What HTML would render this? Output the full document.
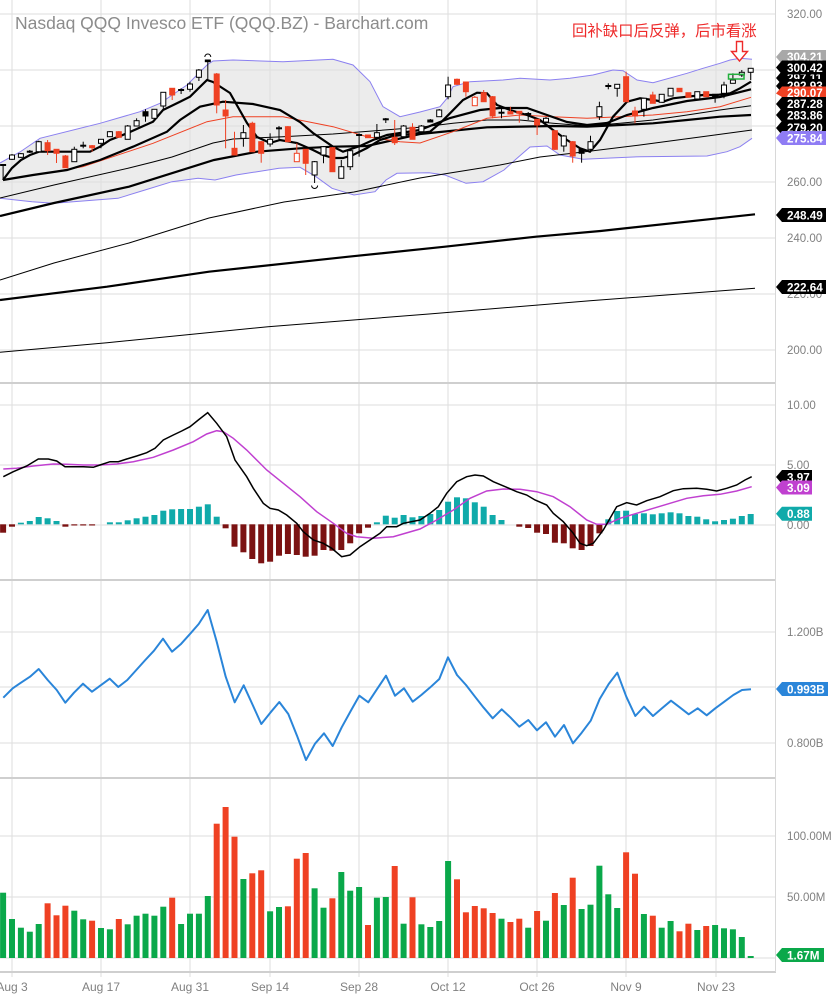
<!DOCTYPE html>
<html><head><meta charset="utf-8">
<style>
html,body{margin:0;padding:0;background:#fff;}
svg{display:block;}
.g{stroke:#dedede;stroke-width:1;fill:none;}
.sep{stroke:#cfcfcf;stroke-width:2;}
.ax{font-family:"Liberation Sans",sans-serif;font-size:11.5px;fill:#808080;}
.bt{font-family:"Liberation Sans",sans-serif;font-size:11.7px;font-weight:bold;fill:#fff;}
.w{stroke:#000;stroke-width:1;}
.wr{stroke:#ef4123;stroke-width:1;}
.u{fill:#fff;stroke:#000;stroke-width:1;}
.r{fill:#ef4123;stroke:#ef4123;stroke-width:1;}
.hr{fill:#fff;stroke:#ef4123;stroke-width:1;}
.b{fill:#000;stroke:#000;stroke-width:1;}
.vg{fill:#0aa84a;}
.vr{fill:#ef4123;}
.ht{fill:#10aaaa;}
.hd{fill:#7b1212;}
</style></head><body>
<svg width="837" height="1000" viewBox="0 0 837 1000" xmlns="http://www.w3.org/2000/svg">
<rect x="0" y="0" width="837" height="1000" fill="#fff"/>

<!-- Bollinger fill -->
<polygon fill="#ececec" points="0,163 20,152 40,138.3 100,123.3 140,111.7 160,103.3 187,85 207,65 213,61 233,60 283,61.7 333,59.3 353,65 370,81.7 383,106.7 400,116.7 420,112 440,106.7 447,98.3 453,86.7 470,81.7 503,80 520,78.3 550,80 570,78.3 593,75 613,70 623,70.7 637,80 653,82.7 687,73.3 703,68.3 720,63.3 730,60 740,58.3 752,59.3 752,138.3 740,146.7 727,151.7 707,156 640,156.7 583,159.3 560,155 547,146 530,147 515,160 504,170 483,181.7 466,183.3 445,175 429,172.7 397,173.3 386,180 375,191.7 354,195 332,188.3 316,176.7 300,167.3 279,168.3 236,175 215,180 198,178.3 172,181.7 145,190 118,198.3 54,203.3 32,201.7 0,198.3"/>

<!-- grid: horizontal -->
<g class="g">
<line x1="0" y1="14" x2="776" y2="14"/><line x1="0" y1="70" x2="776" y2="70"/><line x1="0" y1="126" x2="776" y2="126"/><line x1="0" y1="182" x2="776" y2="182"/><line x1="0" y1="238" x2="776" y2="238"/><line x1="0" y1="294" x2="776" y2="294"/><line x1="0" y1="350" x2="776" y2="350"/>
<line x1="0" y1="405" x2="776" y2="405"/><line x1="0" y1="465" x2="776" y2="465"/><line x1="0" y1="525" x2="776" y2="525"/>
<line x1="0" y1="632" x2="776" y2="632"/><line x1="0" y1="687" x2="776" y2="687"/><line x1="0" y1="743" x2="776" y2="743"/>
<line x1="0" y1="836" x2="776" y2="836"/><line x1="0" y1="897" x2="776" y2="897"/><line x1="0" y1="958" x2="776" y2="958"/>
</g>
<!-- grid: vertical -->
<g class="g">
<line x1="12" y1="0" x2="12" y2="977"/><line x1="101" y1="0" x2="101" y2="977"/><line x1="190" y1="0" x2="190" y2="977"/><line x1="270" y1="0" x2="270" y2="977"/><line x1="359" y1="0" x2="359" y2="977"/><line x1="448" y1="0" x2="448" y2="977"/><line x1="537" y1="0" x2="537" y2="977"/><line x1="626" y1="0" x2="626" y2="977"/><line x1="716" y1="0" x2="716" y2="977"/>
</g>
<!-- panel separators -->
<line class="sep" x1="0" y1="383" x2="776" y2="383"/>
<line class="sep" x1="0" y1="580" x2="776" y2="580"/>
<line class="sep" x1="0" y1="778" x2="776" y2="778"/>
<line class="sep" x1="0" y1="972" x2="776" y2="972"/>
<line x1="775.5" y1="0" x2="775.5" y2="972" stroke="#d8d8d8" stroke-width="1"/>

<!-- Bollinger lines -->
<polyline fill="none" stroke="#8b80f0" stroke-width="1" points="0,163 20,152 40,138.3 100,123.3 140,111.7 160,103.3 187,85 207,65 213,61 233,60 283,61.7 333,59.3 353,65 370,81.7 383,106.7 400,116.7 420,112 440,106.7 447,98.3 453,86.7 470,81.7 503,80 520,78.3 550,80 570,78.3 593,75 613,70 623,70.7 637,80 653,82.7 687,73.3 703,68.3 720,63.3 730,60 740,58.3 752,59.3"/>
<polyline fill="none" stroke="#8b80f0" stroke-width="1" points="0,198.3 32,201.7 54,203.3 118,198.3 145,190 172,181.7 198,178.3 215,180 236,175 279,168.3 300,167.3 316,176.7 332,188.3 354,195 375,191.7 386,180 397,173.3 429,172.7 445,175 466,183.3 483,181.7 504,170 515,160 530,147 547,146 560,155 583,159.3 640,156.7 707,156 727,151.7 740,146.7 752,138.3"/>

<!-- long MAs -->
<polyline fill="none" stroke="#000" stroke-width="1" points="0,280 54,263 129,243 209,218 284,202 354,192 420,178 450,173 500,165 540,157 583,152 640,145 700,137 752,130"/>
<polyline fill="none" stroke="#000" stroke-width="2.2" points="0,300 107,286.7 209,271.7 348.5,256.7 445,246.7 536,236.7 600.5,231 755,214.3"/>
<polyline fill="none" stroke="#000" stroke-width="1" points="0,352.3 107,342.7 268,326.7 429,314 590,300.7 755,288.3"/>

<!-- short MAs -->
<polyline fill="none" stroke="#000" stroke-width="2.2" points="0,216 54,203 129,186.7 214,160 257,151.7 300,148.3 333,146.7 367,146 420,134 487,127.3 553,126 587,126.7 620,125 653,123.3 687,120 720,116.7 751,115"/>
<polyline fill="none" stroke="#000" stroke-width="1" points="0,198 54,185 129,168 153,162 172,157 213,143 233,139 283,136.7 333,134 420,127.3 453,123.3 487,120 520,120 553,123.3 587,126 620,123.3 653,120 687,115 720,110 751,105.7"/>
<polyline fill="none" stroke="#ef4123" stroke-width="1" points="3,180 83,166.7 153,143.3 207,121.7 233,116.7 283,116.7 333,126.7 367,136.7 400,141.7 420,143 453,131.7 487,118.3 520,115 553,116.7 587,118.3 620,116.7 653,115 687,111.7 720,106.7 751,97.3"/>
<polyline fill="none" stroke="#000" stroke-width="2.2" points="3,180 33,175 67,170 100,160 133,146.7 167,131.7 180,120 200,106.7 223,101.7 253,104 280,110 300,122 313,133 333,146.7 343,151.7 360,146 373,140 387,135 420,130 450,118 480,110 500,108 527,108 547,115 567,122 587,125 607,123 627,115 653,108 687,101 720,97 751,89.3"/>
<polyline fill="none" stroke="#000" stroke-width="2.2" points="3,180 12,168 21,160 30,155 39,151.7 67,151.7 90,151.7 100,146.7 110,140 127,133.3 153,121.7 163,110 180,101.7 190,96.7 207,80 213,82 230,93 247,123 257,137 270,143 280,140 297,143 313,150 323,155 333,158 343,158 353,155 367,148 380,140 393,136 420,133 430,131.7 440,123.3 450,113.3 463,100 477,92.7 487,93.3 497,105 510,110 527,115 540,120 553,130 567,140 580,148.3 590,151.7 600,140 613,116.7 627,101.7 640,98.3 653,100 663,101.7 673,98.3 687,96.7 703,95 717,95 730,93.3 740,88.3 751,81.7"/>

<!-- candles -->
<g>
<line class="w" x1="3.1" y1="165" x2="3.1" y2="180"/><rect class="b" x="0.6" y="164.5" width="5" height="1"/>
<line class="w" x1="12" y1="154" x2="12" y2="160"/><rect class="u" x="9.5" y="155" width="5" height="4.3"/>
<line class="w" x1="20.9" y1="153" x2="20.9" y2="158"/><rect class="u" x="18.4" y="153.7" width="5" height="3.6"/>
<line class="w" x1="29.8" y1="150" x2="29.8" y2="153"/><rect class="b" x="27.3" y="151.2" width="5" height="1"/>
<line class="w" x1="38.7" y1="140.7" x2="38.7" y2="152"/><rect class="u" x="36.2" y="141.7" width="5" height="10"/>
<line class="wr" x1="47.6" y1="140" x2="47.6" y2="155"/><rect class="r" x="45.1" y="142.7" width="5" height="8"/>
<line class="wr" x1="56.5" y1="149" x2="56.5" y2="163"/><rect class="r" x="54" y="149.3" width="5" height="4"/>
<line class="wr" x1="65.4" y1="155" x2="65.4" y2="168"/><rect class="r" x="62.9" y="156" width="5" height="11.7"/>
<line class="w" x1="74.3" y1="146.7" x2="74.3" y2="162"/><rect class="u" x="71.8" y="149.3" width="5" height="12.4"/>
<line class="w" x1="83.2" y1="141.7" x2="83.2" y2="148.3"/><rect class="b" x="80.7" y="145.2" width="5" height="1"/>
<line class="wr" x1="92.1" y1="145" x2="92.1" y2="151.7"/><rect class="r" x="89.6" y="145.7" width="5" height="2"/>
<line class="w" x1="101" y1="139" x2="101" y2="148.3"/><rect class="u" x="98.5" y="139.3" width="5" height="4"/>
<line class="w" x1="109.9" y1="131" x2="109.9" y2="137"/><rect class="u" x="107.4" y="131.7" width="5" height="5"/>
<line class="wr" x1="118.8" y1="131" x2="118.8" y2="137.5"/><rect class="r" x="116.3" y="131.7" width="5" height="5.6"/>
<line class="w" x1="127.7" y1="125" x2="127.7" y2="139.5"/><rect class="u" x="125.2" y="126" width="5" height="13.3"/>
<line class="w" x1="136.6" y1="118.3" x2="136.6" y2="126.5"/><rect class="u" x="134.1" y="120.7" width="5" height="5.3"/>
<line class="w" x1="145.5" y1="109.3" x2="145.5" y2="121.7"/><rect class="b" x="143" y="111.7" width="5" height="4.3"/>
<line class="w" x1="154.4" y1="109" x2="154.4" y2="118.5"/><rect class="u" x="151.9" y="109.3" width="5" height="9"/>
<line class="w" x1="163.3" y1="92" x2="163.3" y2="109.3"/><rect class="u" x="160.8" y="92.3" width="5" height="13.7"/>
<line class="wr" x1="172.2" y1="88" x2="172.2" y2="100"/><rect class="r" x="169.7" y="88.3" width="5" height="6.7"/>
<line class="w" x1="181.1" y1="88.3" x2="181.1" y2="94"/><rect class="b" x="178.6" y="89.5" width="5" height="1"/>
<line class="w" x1="190" y1="81.7" x2="190" y2="91.7"/><rect class="u" x="187.5" y="84" width="5" height="5.3"/>
<line class="w" x1="198.9" y1="69" x2="198.9" y2="81"/><rect class="u" x="196.4" y="70" width="5" height="7.3"/>
<line class="w" x1="207.8" y1="60" x2="207.8" y2="80"/><rect class="b" x="205.3" y="60" width="5" height="1.7"/>
<path d="M204.8,57 A3,3 0 0 1 210.8,57" fill="none" stroke="#000" stroke-width="1"/>
<line class="wr" x1="216.7" y1="73" x2="216.7" y2="113.3"/><rect class="r" x="214.2" y="74" width="5" height="31"/>
<line class="wr" x1="225.6" y1="100" x2="225.6" y2="148.3"/><rect class="r" x="223.1" y="110" width="5" height="6"/>
<line class="wr" x1="234.5" y1="131.7" x2="234.5" y2="155"/><rect class="r" x="232" y="148.3" width="5" height="6.7"/>
<line class="w" x1="243.4" y1="125" x2="243.4" y2="146.7"/><rect class="u" x="240.9" y="132.7" width="5" height="5.6"/>
<line class="wr" x1="252.3" y1="121.7" x2="252.3" y2="152"/><rect class="r" x="249.8" y="123.3" width="5" height="28.4"/>
<line class="wr" x1="261.2" y1="141" x2="261.2" y2="162.7"/><rect class="r" x="258.7" y="141.7" width="5" height="11.6"/>
<line class="w" x1="270.1" y1="133.3" x2="270.1" y2="146.7"/><rect class="u" x="267.6" y="139.3" width="5" height="4.7"/>
<line class="w" x1="279" y1="126" x2="279" y2="140"/><rect class="b" x="276.5" y="127.8" width="5" height="1"/>
<line class="wr" x1="287.9" y1="126" x2="287.9" y2="142"/><rect class="r" x="285.4" y="126.7" width="5" height="15"/>
<line class="wr" x1="296.8" y1="143.3" x2="296.8" y2="162"/><rect class="hr" x="294.3" y="153.3" width="5" height="8.4"/>
<line class="wr" x1="305.7" y1="149" x2="305.7" y2="175"/><rect class="r" x="303.2" y="149.3" width="5" height="14"/>
<line class="w" x1="314.6" y1="161" x2="314.6" y2="183"/><rect class="u" x="312.1" y="161.7" width="5" height="13.3"/>
<path d="M311.6,185.5 A3,3 0 0 0 317.6,185.5" fill="none" stroke="#000" stroke-width="1"/>
<line class="w" x1="323.5" y1="146" x2="323.5" y2="163.3"/><rect class="u" x="321" y="146.7" width="5" height="8.3"/>
<line class="wr" x1="332.4" y1="147" x2="332.4" y2="172"/><rect class="r" x="329.9" y="147.7" width="5" height="24"/>
<line class="w" x1="341.3" y1="160" x2="341.3" y2="178.5"/><rect class="u" x="338.8" y="166.7" width="5" height="11.6"/>
<line class="w" x1="350.2" y1="150" x2="350.2" y2="170"/><rect class="u" x="347.7" y="150.7" width="5" height="16"/>
<line class="w" x1="359.1" y1="133.3" x2="359.1" y2="156.7"/><rect class="b" x="356.6" y="134.5" width="5" height="1"/>
<line class="wr" x1="368" y1="134.5" x2="368" y2="138"/><rect class="r" x="365.5" y="135" width="5" height="2.7"/>
<line class="w" x1="376.9" y1="124" x2="376.9" y2="140"/><rect class="u" x="374.4" y="132.7" width="5" height="4.6"/>
<line class="w" x1="385.8" y1="118" x2="385.8" y2="123"/><rect class="b" x="383.3" y="118.8" width="5" height="1"/>
<line class="wr" x1="394.7" y1="120" x2="394.7" y2="145"/><rect class="r" x="392.2" y="137.3" width="5" height="5.4"/>
<line class="w" x1="403.6" y1="125" x2="403.6" y2="137"/><rect class="u" x="401.1" y="126" width="5" height="10.7"/>
<line class="wr" x1="412.5" y1="123.3" x2="412.5" y2="139.5"/><rect class="r" x="410" y="127.3" width="5" height="12"/>
<line class="w" x1="421.4" y1="125" x2="421.4" y2="132"/><rect class="u" x="418.9" y="126" width="5" height="5.7"/>
<line class="w" x1="430.3" y1="119" x2="430.3" y2="122.5"/><rect class="b" x="427.8" y="120" width="5" height="2"/>
<line class="w" x1="439.2" y1="109" x2="439.2" y2="117"/><rect class="u" x="436.7" y="110" width="5" height="6.7"/>
<line class="w" x1="448.1" y1="76.7" x2="448.1" y2="99.3"/><rect class="u" x="445.6" y="85" width="5" height="11.7"/>
<line class="wr" x1="457" y1="78.5" x2="457" y2="85"/><rect class="r" x="454.5" y="79.3" width="5" height="5"/>
<line class="wr" x1="465.9" y1="81.5" x2="465.9" y2="96.7"/><rect class="r" x="463.4" y="82" width="5" height="9.7"/>
<line class="wr" x1="474.8" y1="96" x2="474.8" y2="106"/><rect class="hr" x="472.3" y="97.3" width="5" height="8.4"/>
<line class="wr" x1="483.7" y1="90" x2="483.7" y2="102"/><rect class="r" x="481.2" y="92.7" width="5" height="9"/>
<line class="wr" x1="492.6" y1="96" x2="492.6" y2="118.3"/><rect class="r" x="490.1" y="96.7" width="5" height="19.3"/>
<line class="w" x1="501.5" y1="106.7" x2="501.5" y2="118.3"/><rect class="b" x="499" y="112.2" width="5" height="1"/>
<line class="wr" x1="510.4" y1="106.7" x2="510.4" y2="114.5"/><rect class="r" x="507.9" y="111.7" width="5" height="2.3"/>
<line class="wr" x1="519.3" y1="111" x2="519.3" y2="122.7"/><rect class="r" x="516.8" y="111.3" width="5" height="2"/>
<line class="w" x1="528.2" y1="112" x2="528.2" y2="120"/><rect class="b" x="525.7" y="113.5" width="5" height="1"/>
<line class="wr" x1="537.1" y1="119" x2="537.1" y2="135"/><rect class="r" x="534.6" y="119.3" width="5" height="5.7"/>
<line class="w" x1="546" y1="117" x2="546" y2="122.5"/><rect class="u" x="543.5" y="118.3" width="5" height="3.7"/>
<line class="wr" x1="554.9" y1="130" x2="554.9" y2="150"/><rect class="r" x="552.4" y="130.7" width="5" height="18.6"/>
<line class="w" x1="563.8" y1="135" x2="563.8" y2="151.7"/><rect class="u" x="561.3" y="136" width="5" height="10"/>
<line class="wr" x1="572.7" y1="141" x2="572.7" y2="162.7"/><rect class="r" x="570.2" y="141.7" width="5" height="14.3"/>
<line class="w" x1="581.6" y1="149" x2="581.6" y2="162.7"/><rect class="b" x="579.1" y="149.3" width="5" height="4"/>
<line class="w" x1="590.5" y1="135.7" x2="590.5" y2="149.5"/><rect class="u" x="588" y="141.7" width="5" height="7.6"/>
<line class="w" x1="599.4" y1="101.7" x2="599.4" y2="120"/><rect class="u" x="596.9" y="106.7" width="5" height="10"/>
<line class="w" x1="608.3" y1="83.3" x2="608.3" y2="89.3"/><rect class="b" x="605.8" y="85.5" width="5" height="1"/>
<line class="w" x1="617.2" y1="84" x2="617.2" y2="96.7"/><rect class="u" x="614.7" y="84.3" width="5" height="4"/>
<line class="wr" x1="626.1" y1="71.7" x2="626.1" y2="102"/><rect class="r" x="623.6" y="76.7" width="5" height="25"/>
<line class="wr" x1="635" y1="106.7" x2="635" y2="123.3"/><rect class="r" x="632.5" y="111" width="5" height="5"/>
<line class="w" x1="643.9" y1="98" x2="643.9" y2="116.7"/><rect class="u" x="641.4" y="98.3" width="5" height="11"/>
<line class="wr" x1="652.8" y1="91.7" x2="652.8" y2="103.5"/><rect class="r" x="650.3" y="95" width="5" height="8.3"/>
<line class="w" x1="661.7" y1="94" x2="661.7" y2="102.5"/><rect class="u" x="659.2" y="94.3" width="5" height="8"/>
<line class="w" x1="670.6" y1="88" x2="670.6" y2="96.5"/><rect class="u" x="668.1" y="88.3" width="5" height="7.7"/>
<line class="wr" x1="679.5" y1="88" x2="679.5" y2="92"/><rect class="r" x="677" y="88.3" width="5" height="3.4"/>
<line class="wr" x1="688.4" y1="92.5" x2="688.4" y2="97.5"/><rect class="r" x="685.9" y="92.7" width="5" height="4.6"/>
<line class="w" x1="697.3" y1="91.5" x2="697.3" y2="99.3"/><rect class="u" x="694.8" y="91.7" width="5" height="7.3"/>
<line class="wr" x1="706.2" y1="91.5" x2="706.2" y2="97"/><rect class="r" x="703.7" y="91.7" width="5" height="5"/>
<line class="w" x1="715.1" y1="94" x2="715.1" y2="102.7"/><rect class="b" x="712.6" y="94.3" width="5" height="3"/>
<line class="w" x1="724" y1="81.7" x2="724" y2="98.3"/><rect class="u" x="721.5" y="85" width="5" height="8.3"/>
<line class="w" x1="732.9" y1="73.3" x2="732.9" y2="83.5"/><rect class="u" x="730.4" y="80" width="5" height="3.3"/>
<line class="w" x1="741.8" y1="70" x2="741.8" y2="77"/><rect class="u" x="739.3" y="72.3" width="5" height="2.7"/>
<line class="w" x1="750.7" y1="68" x2="750.7" y2="80"/><rect class="u" x="748.2" y="68.3" width="5" height="4"/>
</g>
<!-- green annotation box -->
<rect x="728.5" y="74.3" width="15.5" height="4.7" fill="none" stroke="#22b03c" stroke-width="1.5"/>
<!-- red arrow -->
<path d="M736.5,41.5 L742.5,41.5 L742.5,51.5 L747.5,51.5 L739.5,61 L731.5,51.5 L736.5,51.5 Z" fill="#fff" stroke="#ee2a2a" stroke-width="1.4"/>

<!-- title & annotation -->
<text x="15" y="29" font-family="'Liberation Sans',sans-serif" font-size="17.5" fill="#8c8c8c">Nasdaq QQQ Invesco ETF (QQQ.BZ) - Barchart.com</text>
<text x="572" y="36" font-family="'Liberation Sans','Noto Sans CJK SC',sans-serif" font-size="15.4" fill="#ee2a2a">回补缺口后反弹，后市看涨</text>

<!-- main axis labels -->
<text class="ax" x="787" y="18">320.00</text>
<text class="ax" x="787" y="186">260.00</text>
<text class="ax" x="787" y="242">240.00</text>
<text class="ax" x="787" y="298">220.00</text>
<text class="ax" x="787" y="354">200.00</text>

<!-- main badges -->
<g>
<path d="M776,57 L782,50 L826,50 L826,64 L782,64 Z" fill="#a8a8a8"/><text class="bt" x="787" y="61">304.21</text>
<path d="M776,78 L782,71 L826,71 L826,85 L782,85 Z" fill="#000"/><text class="bt" x="787" y="82">297.11</text>
<path d="M776,128 L782,121 L826,121 L826,135 L782,135 Z" fill="#000"/><text class="bt" x="787" y="132">279.20</text>
<path d="M776,104 L782,97 L826,97 L826,111 L782,111 Z" fill="#000"/><text class="bt" x="787" y="108">287.28</text>
<path d="M776,86 L782,79 L826,79 L826,93 L782,93 Z" fill="#000"/><text class="bt" x="787" y="90">292.93</text>
<path d="M776,93.5 L782,86.5 L826,86.5 L826,97 L782,97 Z" fill="#ef4123"/><text class="bt" x="787" y="97">290.07</text>
<path d="M776,115 L782,108 L826,108 L826,122 L782,122 Z" fill="#000"/><text class="bt" x="787" y="119.5">283.86</text>
<path d="M776,138 L782,131 L826,131 L826,145 L782,145 Z" fill="#8f7cf4"/><text class="bt" x="787" y="142.5">275.84</text>
<path d="M776,67.5 L782,60.5 L826,60.5 L826,74.5 L782,74.5 Z" fill="#000"/><text class="bt" x="787" y="72">300.42</text>
<path d="M776,215 L782,208 L826,208 L826,222 L782,222 Z" fill="#000"/><text class="bt" x="787" y="219.5">248.49</text>
<path d="M776,287 L782,280 L826,280 L826,294 L782,294 Z" fill="#000"/><text class="bt" x="787" y="291.5">222.64</text>
</g>

<!-- MACD histogram -->
<g>
<rect class="hd" x="0.1" y="524.3" width="6" height="8.4"/>
<rect class="hd" x="9" y="524.3" width="6" height="2.4"/>
<rect class="ht" x="17.9" y="522.7" width="6" height="1.6"/>
<rect class="ht" x="26.8" y="521" width="6" height="3.3"/>
<rect class="ht" x="35.7" y="517" width="6" height="7.3"/>
<rect class="ht" x="44.6" y="518.3" width="6" height="6"/>
<rect class="ht" x="53.5" y="521" width="6" height="3.3"/>
<rect class="hd" x="62.4" y="524.3" width="6" height="2.4"/>
<rect class="hd" x="71.3" y="524.3" width="6" height="1.2"/>
<rect class="hd" x="80.2" y="524.3" width="6" height="1.2"/>
<rect class="hd" x="89.1" y="524.3" width="6" height="1.2"/>
<rect class="ht" x="106.9" y="522.3" width="6" height="2"/>
<rect class="ht" x="115.8" y="522.3" width="6" height="2"/>
<rect class="ht" x="124.7" y="520.3" width="6" height="4"/>
<rect class="ht" x="133.6" y="518.3" width="6" height="6"/>
<rect class="ht" x="142.5" y="516.7" width="6" height="7.6"/>
<rect class="ht" x="151.4" y="515" width="6" height="9.3"/>
<rect class="ht" x="160.3" y="510.7" width="6" height="13.6"/>
<rect class="ht" x="169.2" y="509.3" width="6" height="15"/>
<rect class="ht" x="178.1" y="509" width="6" height="15.3"/>
<rect class="ht" x="187" y="509" width="6" height="15.3"/>
<rect class="ht" x="195.9" y="506.7" width="6" height="17.6"/>
<rect class="ht" x="204.8" y="504.3" width="6" height="20"/>
<rect class="ht" x="213.7" y="516.7" width="6" height="7.6"/>
<rect class="hd" x="222.6" y="524.3" width="6" height="4"/>
<rect class="hd" x="231.5" y="524.3" width="6" height="22.4"/>
<rect class="hd" x="240.4" y="524.3" width="6" height="28"/>
<rect class="hd" x="249.3" y="524.3" width="6" height="34.7"/>
<rect class="hd" x="258.2" y="524.3" width="6" height="39"/>
<rect class="hd" x="267.1" y="524.3" width="6" height="37.4"/>
<rect class="hd" x="276" y="524.3" width="6" height="31.4"/>
<rect class="hd" x="284.9" y="524.3" width="6" height="29.7"/>
<rect class="hd" x="293.8" y="524.3" width="6" height="30.7"/>
<rect class="hd" x="302.7" y="524.3" width="6" height="32.4"/>
<rect class="hd" x="311.6" y="524.3" width="6" height="31.4"/>
<rect class="hd" x="320.5" y="524.3" width="6" height="25.7"/>
<rect class="hd" x="329.4" y="524.3" width="6" height="26.4"/>
<rect class="hd" x="338.3" y="524.3" width="6" height="25.7"/>
<rect class="hd" x="347.2" y="524.3" width="6" height="19"/>
<rect class="hd" x="356.1" y="524.3" width="6" height="9"/>
<rect class="hd" x="365" y="524.3" width="6" height="3.4"/>
<rect class="ht" x="373.9" y="522.3" width="6" height="2"/>
<rect class="ht" x="382.8" y="515.7" width="6" height="8.6"/>
<rect class="ht" x="391.7" y="517.7" width="6" height="6.6"/>
<rect class="ht" x="400.6" y="515" width="6" height="9.3"/>
<rect class="ht" x="409.5" y="517.3" width="6" height="7"/>
<rect class="ht" x="418.4" y="516" width="6" height="8.3"/>
<rect class="ht" x="427.3" y="514" width="6" height="10.3"/>
<rect class="ht" x="436.2" y="510" width="6" height="14.3"/>
<rect class="ht" x="445.1" y="501.7" width="6" height="22.6"/>
<rect class="ht" x="454" y="497.3" width="6" height="27"/>
<rect class="ht" x="462.9" y="498.3" width="6" height="26"/>
<rect class="ht" x="471.8" y="502.3" width="6" height="22"/>
<rect class="ht" x="480.7" y="506.7" width="6" height="17.6"/>
<rect class="ht" x="489.6" y="515" width="6" height="9.3"/>
<rect class="ht" x="498.5" y="520" width="6" height="4.3"/>
<rect class="hd" x="516.3" y="524.3" width="6" height="2.4"/>
<rect class="hd" x="525.2" y="524.3" width="6" height="3.7"/>
<rect class="hd" x="534.1" y="524.3" width="6" height="8.4"/>
<rect class="hd" x="543" y="524.3" width="6" height="9.7"/>
<rect class="hd" x="551.9" y="524.3" width="6" height="18.4"/>
<rect class="hd" x="560.8" y="524.3" width="6" height="19"/>
<rect class="hd" x="569.7" y="524.3" width="6" height="24"/>
<rect class="hd" x="578.6" y="524.3" width="6" height="25.7"/>
<rect class="hd" x="587.5" y="524.3" width="6" height="21.7"/>
<rect class="hd" x="596.4" y="524.3" width="6" height="9"/>
<rect class="ht" x="605.3" y="519.3" width="6" height="5"/>
<rect class="ht" x="614.2" y="511" width="6" height="13.3"/>
<rect class="ht" x="623.1" y="510.7" width="6" height="13.6"/>
<rect class="ht" x="632" y="514" width="6" height="10.3"/>
<rect class="ht" x="640.9" y="513.3" width="6" height="11"/>
<rect class="ht" x="649.8" y="514.3" width="6" height="10"/>
<rect class="ht" x="658.7" y="513.3" width="6" height="11"/>
<rect class="ht" x="667.6" y="512.3" width="6" height="12"/>
<rect class="ht" x="676.5" y="513.3" width="6" height="11"/>
<rect class="ht" x="685.4" y="516" width="6" height="8.3"/>
<rect class="ht" x="694.3" y="516.7" width="6" height="7.6"/>
<rect class="ht" x="703.2" y="519.3" width="6" height="5"/>
<rect class="ht" x="712.1" y="521.3" width="6" height="3"/>
<rect class="ht" x="721" y="520" width="6" height="4.3"/>
<rect class="ht" x="729.9" y="518.7" width="6" height="5.6"/>
<rect class="ht" x="738.8" y="516" width="6" height="8.3"/>
<rect class="ht" x="747.7" y="514" width="6" height="10.3"/>
</g>
<!-- MACD lines -->
<polyline fill="none" stroke="#c040d0" stroke-width="1.5" points="3.3,469 16.7,468.3 33.3,466 53.3,464 66.7,464.3 83.3,465 100,465 116.7,464 133.3,461.7 153.3,457.3 173.3,450 193.3,441.7 206.7,434 216.7,430.7 223.3,431.7 233.3,438.3 246.7,450 266.7,470 283.3,483.3 300,496.7 316.7,511.7 333.3,523.3 346.7,533.3 356.7,536.7 373.3,538.3 393.3,536.7 420,529 436.7,520 453.3,510 470,498.3 486.7,491 503.3,489 520,489.3 536.7,491.7 553.3,496.7 570,506.7 586.7,520 596.7,524.3 606.7,524.3 620,518.3 636.7,513.3 653.3,508.3 670,503.3 686.7,498.3 703.3,495.7 720,494.3 736.7,491 751.7,486.7"/>
<polyline fill="none" stroke="#000" stroke-width="1.5" points="3.3,476.7 13.3,471.7 26.7,466 38.3,459 48.3,459 56.7,461 65,466.7 73.3,466.7 83.3,466.7 93.3,467.3 100,465 110,461.7 118.3,461.7 126.7,459 136.7,456 146.7,452.7 155,448.3 163.3,440 173.3,435 181.7,431 190,426.7 198.3,420 207.7,412.7 216.7,423.3 226.7,436.7 235,460 246.7,476.7 253.3,488.3 263.3,503.3 270,508.3 278.3,510 286.7,515 296.7,523.3 303.3,531.7 313.3,540 323.3,543.3 331.7,548.3 341.7,556.7 350,555 360,546.7 370,540 380,533.3 386.7,526.7 396.7,526.7 403.3,523.3 420,520 430,513.3 438.3,506.7 446.7,493.3 456.7,481.7 466.7,476.7 475,475 483.3,476 493.3,481.7 506.7,487.3 516.7,491.7 526.7,495 535,500 546.7,505 553.3,513.3 563.3,521.7 573.3,533.3 580,543.3 586.7,545.7 593.3,543.3 603.3,530 616.7,506.7 626.7,502.7 636.7,505 646.7,500.7 660,496.7 673.3,490.7 683.3,488.7 696.7,488.3 706.7,489.3 716.7,491 726.7,488.3 736.7,485 745,480 751.7,476.7"/>
<!-- MACD axis -->
<text class="ax" x="787" y="409">10.00</text>
<text class="ax" x="787" y="469">5.00</text>
<text class="ax" x="787" y="529">0.00</text>
<path d="M776,477 L782,470 L812,470 L812,484 L782,484 Z" fill="#000"/><text class="bt" x="787" y="481.5">3.97</text>
<path d="M776,487.5 L782,480.5 L812,480.5 L812,494.5 L782,494.5 Z" fill="#c040d0"/><text class="bt" x="787" y="492">3.09</text>
<path d="M776,513.7 L782,506.7 L812,506.7 L812,520.7 L782,520.7 Z" fill="#10aaaa"/><text class="bt" x="787" y="518">0.88</text>

<!-- Blue line panel -->
<polyline fill="none" stroke="#2a85d9" stroke-width="2" stroke-linejoin="round" points="3.3,697.7 12.7,688.3 20,683.3 30,676.7 38.7,669 47.7,680 56.7,690 65.3,702.7 74,692.7 83,683.7 92,691.7 100.7,685.3 109.7,678.7 118.3,687 127.3,680 136.3,670 145.3,660 154,650.7 163,638.7 172,651.7 180.7,644.3 189.7,634.3 198.7,624 207.7,610 216.7,641.7 225.7,676.7 234.7,702.3 243.7,685.3 252.7,705 261.3,724 270.3,712.7 279.3,702 288.3,714 297,735.7 306,760 315,743.7 324,733.3 332.7,746 341.7,727.3 350.7,711 359.3,695.7 368.3,702.3 377.3,688.7 386,675.7 395,695.7 404,688.3 412.7,701.7 421.3,695 430.3,687.3 439.3,679 448,657.3 457,675 466,685 475,696.7 483.7,707.7 492.7,718.3 501.7,709.3 510.3,717.3 519.3,726.7 528.3,720 537,730.3 546,722.3 555,736.7 564,725 573,743.3 581.7,732.7 590.7,720.7 599.7,699 608.7,684 617.3,672.7 626.3,696.7 635.3,716 644,706.7 653,716 662,708.3 671,700.7 679.7,707.3 688.7,714.3 697.7,708.3 706.7,715.3 715.3,708.3 724.3,701.7 733.3,695 742,690 751,689.3"/>
<text class="ax" x="787" y="636">1.200B</text>
<text class="ax" x="787" y="747">0.800B</text>
<path d="M776,689 L782,682 L828,682 L828,696 L782,696 Z" fill="#2a85d9"/><text class="bt" x="787" y="693.5">0.993B</text>

<!-- Volume -->
<g>
<rect class="vg" x="0.1" y="892.7" width="6" height="65.3"/>
<rect class="vg" x="9" y="919" width="6" height="39"/>
<rect class="vg" x="17.9" y="927.7" width="6" height="30.3"/>
<rect class="vg" x="26.8" y="931.7" width="6" height="26.3"/>
<rect class="vg" x="35.7" y="924" width="6" height="34"/>
<rect class="vr" x="44.6" y="903.3" width="6" height="54.7"/>
<rect class="vr" x="53.5" y="915.3" width="6" height="42.7"/>
<rect class="vr" x="62.4" y="905.7" width="6" height="52.3"/>
<rect class="vg" x="71.3" y="910.7" width="6" height="47.3"/>
<rect class="vg" x="80.2" y="919.3" width="6" height="38.7"/>
<rect class="vr" x="89.1" y="920.7" width="6" height="37.3"/>
<rect class="vg" x="98" y="928" width="6" height="30"/>
<rect class="vg" x="106.9" y="929.3" width="6" height="28.7"/>
<rect class="vr" x="115.8" y="919" width="6" height="39"/>
<rect class="vg" x="124.7" y="924.3" width="6" height="33.7"/>
<rect class="vg" x="133.6" y="915.7" width="6" height="42.3"/>
<rect class="vg" x="142.5" y="913.7" width="6" height="44.3"/>
<rect class="vg" x="151.4" y="915.7" width="6" height="42.3"/>
<rect class="vg" x="160.3" y="906.7" width="6" height="51.3"/>
<rect class="vr" x="169.2" y="897.7" width="6" height="60.3"/>
<rect class="vg" x="178.1" y="924" width="6" height="34"/>
<rect class="vg" x="187" y="913.7" width="6" height="44.3"/>
<rect class="vg" x="195.9" y="913.7" width="6" height="44.3"/>
<rect class="vg" x="204.8" y="896" width="6" height="62"/>
<rect class="vr" x="213.7" y="823.7" width="6" height="134.3"/>
<rect class="vr" x="222.6" y="807" width="6" height="151"/>
<rect class="vr" x="231.5" y="836.7" width="6" height="121.3"/>
<rect class="vg" x="240.4" y="879" width="6" height="79"/>
<rect class="vr" x="249.3" y="873.3" width="6" height="84.7"/>
<rect class="vr" x="258.2" y="870.3" width="6" height="87.7"/>
<rect class="vg" x="267.1" y="911.3" width="6" height="46.7"/>
<rect class="vg" x="276" y="907" width="6" height="51"/>
<rect class="vr" x="284.9" y="906.3" width="6" height="51.7"/>
<rect class="vr" x="293.8" y="858.7" width="6" height="99.3"/>
<rect class="vr" x="302.7" y="853" width="6" height="105"/>
<rect class="vg" x="311.6" y="888.3" width="6" height="69.7"/>
<rect class="vg" x="320.5" y="907.7" width="6" height="50.3"/>
<rect class="vr" x="329.4" y="898.3" width="6" height="59.7"/>
<rect class="vg" x="338.3" y="872" width="6" height="86"/>
<rect class="vg" x="347.2" y="890.7" width="6" height="67.3"/>
<rect class="vg" x="356.1" y="887" width="6" height="71"/>
<rect class="vr" x="365" y="925" width="6" height="33"/>
<rect class="vg" x="373.9" y="897.7" width="6" height="60.3"/>
<rect class="vg" x="382.8" y="897" width="6" height="61"/>
<rect class="vr" x="391.7" y="866" width="6" height="92"/>
<rect class="vg" x="400.6" y="923.7" width="6" height="34.3"/>
<rect class="vr" x="409.5" y="897.3" width="6" height="60.7"/>
<rect class="vg" x="418.4" y="924.3" width="6" height="33.7"/>
<rect class="vg" x="427.3" y="927" width="6" height="31"/>
<rect class="vg" x="436.2" y="921" width="6" height="37"/>
<rect class="vg" x="445.1" y="861" width="6" height="97"/>
<rect class="vr" x="454" y="879.3" width="6" height="78.7"/>
<rect class="vr" x="462.9" y="912.3" width="6" height="45.7"/>
<rect class="vr" x="471.8" y="906" width="6" height="52"/>
<rect class="vr" x="480.7" y="908.3" width="6" height="49.7"/>
<rect class="vr" x="489.6" y="913" width="6" height="45"/>
<rect class="vg" x="498.5" y="918.7" width="6" height="39.3"/>
<rect class="vr" x="507.4" y="922" width="6" height="36"/>
<rect class="vr" x="516.3" y="918.7" width="6" height="39.3"/>
<rect class="vg" x="525.2" y="927.7" width="6" height="30.3"/>
<rect class="vr" x="534.1" y="911" width="6" height="47"/>
<rect class="vg" x="543" y="920.7" width="6" height="37.3"/>
<rect class="vr" x="551.9" y="893" width="6" height="65"/>
<rect class="vg" x="560.8" y="905" width="6" height="53"/>
<rect class="vr" x="569.7" y="877.7" width="6" height="80.3"/>
<rect class="vg" x="578.6" y="909" width="6" height="49"/>
<rect class="vg" x="587.5" y="904.7" width="6" height="53.3"/>
<rect class="vg" x="596.4" y="865.7" width="6" height="92.3"/>
<rect class="vg" x="605.3" y="894.3" width="6" height="63.7"/>
<rect class="vg" x="614.2" y="908" width="6" height="50"/>
<rect class="vr" x="623.1" y="852.3" width="6" height="105.7"/>
<rect class="vr" x="632" y="873.7" width="6" height="84.3"/>
<rect class="vg" x="640.9" y="914" width="6" height="44"/>
<rect class="vr" x="649.8" y="915.7" width="6" height="42.3"/>
<rect class="vg" x="658.7" y="927.7" width="6" height="30.3"/>
<rect class="vg" x="667.6" y="921" width="6" height="37"/>
<rect class="vr" x="676.5" y="931.3" width="6" height="26.7"/>
<rect class="vr" x="685.4" y="923.7" width="6" height="34.3"/>
<rect class="vg" x="694.3" y="930" width="6" height="28"/>
<rect class="vr" x="703.2" y="926" width="6" height="32"/>
<rect class="vg" x="712.1" y="925" width="6" height="33"/>
<rect class="vg" x="721" y="928.3" width="6" height="29.7"/>
<rect class="vg" x="729.9" y="929.3" width="6" height="28.7"/>
<rect class="vg" x="738.8" y="937" width="6" height="21"/>
<rect class="vg" x="747.7" y="956" width="6" height="2"/>
</g>
<text class="ax" x="787" y="840">100.00M</text>
<text class="ax" x="787" y="901">50.00M</text>
<path d="M776,955 L782,948 L824,948 L824,962 L782,962 Z" fill="#0aa84a"/><text class="bt" x="787" y="959.5">1.67M</text>

<!-- x axis labels -->
<g font-family="'Liberation Sans',sans-serif" font-size="12" fill="#808080" text-anchor="middle">
<text x="12" y="991">Aug 3</text>
<text x="101" y="991">Aug 17</text>
<text x="190" y="991">Aug 31</text>
<text x="270" y="991">Sep 14</text>
<text x="359" y="991">Sep 28</text>
<text x="448" y="991">Oct 12</text>
<text x="537" y="991">Oct 26</text>
<text x="626" y="991">Nov 9</text>
<text x="716" y="991">Nov 23</text>
</g>
</svg>
</body></html>
